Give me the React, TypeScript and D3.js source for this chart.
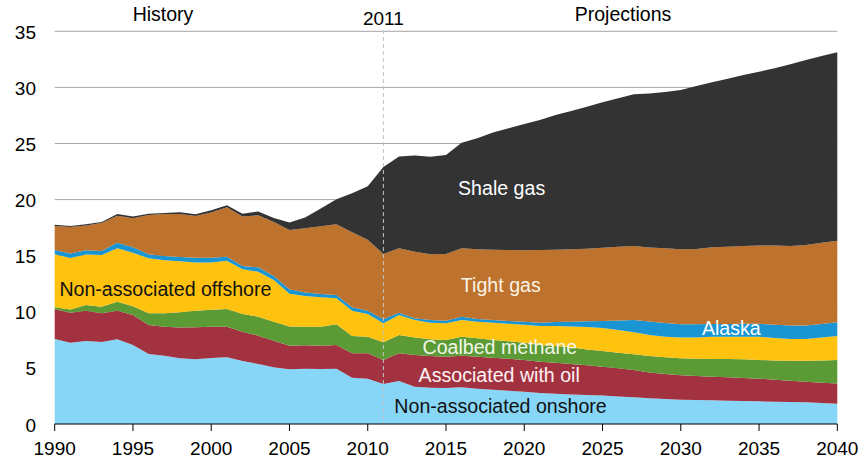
import React from 'react';
import * as d3 from 'd3';

// US natural gas production by source, 1990-2040 (trillion cubic feet)
const years = d3.range(1990, 2041);

const onshore = [
  7.58, 7.25, 7.4, 7.31, 7.55, 7.04, 6.24, 6.09, 5.85, 5.76,
  5.88, 5.94, 5.61, 5.35, 5.05, 4.88, 4.92, 4.9, 4.93, 4.13,
  4.04, 3.57, 3.83, 3.33, 3.24, 3.21, 3.27, 3.15, 3.06, 2.97,
  2.88, 2.76, 2.7, 2.64, 2.58, 2.53, 2.44, 2.38, 2.29, 2.23,
  2.17, 2.14, 2.11, 2.08, 2.05, 2.02, 1.99, 1.96, 1.93, 1.87,
  1.81,
];
const assocOil = [
  2.64, 2.67, 2.7, 2.55, 2.55, 2.67, 2.58, 2.58, 2.74, 2.86,
  2.79, 2.73, 2.62, 2.52, 2.38, 2.1, 2.1, 2.08, 2.11, 2.17,
  2.26, 2.13, 2.47, 2.82, 2.82, 2.79, 2.82, 2.85, 2.85, 2.85,
  2.82, 2.79, 2.77, 2.71, 2.65, 2.58, 2.52, 2.43, 2.31, 2.23,
  2.17, 2.14, 2.11, 2.08, 2.05, 2.02, 1.96, 1.9, 1.84, 1.81,
  1.81,
];
const coalbed = [
  0.18, 0.28, 0.5, 0.6, 0.8, 0.79, 1.04, 1.19, 1.36, 1.48,
  1.52, 1.58, 1.57, 1.7, 1.69, 1.72, 1.65, 1.69, 1.84, 1.54,
  1.48, 1.58, 1.63, 1.57, 1.49, 1.49, 1.69, 1.64, 1.58, 1.55,
  1.55, 1.49, 1.48, 1.48, 1.42, 1.39, 1.4, 1.4, 1.46, 1.48,
  1.51, 1.54, 1.57, 1.63, 1.66, 1.66, 1.72, 1.78, 1.87, 1.99,
  2.08,
];
const offshore = [
  4.72, 4.6, 4.5, 4.6, 4.76, 4.77, 4.91, 4.74, 4.55, 4.3,
  4.21, 4.31, 4.0, 4.0, 3.71, 2.9, 2.73, 2.62, 2.32, 2.26,
  2.02, 1.69, 1.78, 1.55, 1.48, 1.48, 1.49, 1.48, 1.54, 1.57,
  1.6, 1.69, 1.79, 1.87, 2.0, 2.06, 2.01, 1.96, 1.87, 1.84,
  1.87, 1.9, 1.99, 1.99, 2.02, 2.08, 1.99, 1.94, 1.94, 2.05,
  2.14,
];
const alaska = [
  0.38, 0.4, 0.38, 0.36, 0.5, 0.48, 0.35, 0.37, 0.38, 0.42,
  0.42, 0.35, 0.28, 0.39, 0.36, 0.4, 0.33, 0.3, 0.3, 0.3,
  0.3, 0.36, 0.21, 0.15, 0.24, 0.24, 0.3, 0.24, 0.24, 0.24,
  0.27, 0.3, 0.35, 0.42, 0.5, 0.62, 0.85, 1.1, 1.2, 1.22,
  1.16, 1.16, 1.13, 1.14, 1.15, 1.16, 1.19, 1.21, 1.21, 1.2,
  1.22,
];
const tight = [
  2.15, 2.35, 2.22, 2.5, 2.41, 2.58, 3.51, 3.75, 3.84, 3.72,
  4.02, 4.4, 4.42, 4.64, 4.81, 5.3, 5.71, 6.03, 6.3, 6.7,
  6.33, 5.82, 5.74, 5.94, 5.85, 5.94, 6.09, 6.21, 6.27, 6.32,
  6.36, 6.47, 6.43, 6.45, 6.48, 6.52, 6.58, 6.59, 6.6, 6.66,
  6.69, 6.72, 6.84, 6.88, 6.93, 6.98, 7.07, 7.07, 7.16, 7.24,
  7.28,
];
const shale = [
  0.1, 0.1, 0.1, 0.08, 0.15, 0.17, 0.12, 0.08, 0.15, 0.16,
  0.21, 0.19, 0.25, 0.35, 0.35, 0.65, 0.96, 1.58, 2.23, 3.46,
  4.77, 7.75, 8.19, 8.57, 8.71, 8.82, 9.41, 9.89, 10.43, 10.85,
  11.26, 11.59, 12.02, 12.33, 12.65, 12.97, 13.23, 13.52, 13.72, 13.93,
  14.2, 14.52, 14.7, 14.98, 15.24, 15.48, 15.78, 16.2, 16.49, 16.64,
  16.79,
];

const yTicks = [0, 5, 10, 15, 20, 25, 30, 35];
const xTicks = [1990, 1995, 2000, 2005, 2010, 2015, 2020, 2025, 2030, 2035, 2040];
const splitYear = 2011;

const layers = [
  { key: 'onshore', values: onshore, color: '#87d6f8' },
  { key: 'assocOil', values: assocOil, color: '#a33241' },
  { key: 'coalbed', values: coalbed, color: '#5c9a36' },
  { key: 'offshore', values: offshore, color: '#ffc20e' },
  { key: 'alaska', values: alaska, color: '#1a95d3' },
  { key: 'tight', values: tight, color: '#bd722d' },
  { key: 'shale', values: shale, color: '#333333' },
];

// label anchors in data space (year, value at baseline)
const labels = [
  { text: 'Non-associated offshore', year: 1990.3, value: 11.4, fill: '#111' },
  { text: 'Shale gas', year: 2015.77, value: 20.4, fill: '#fff' },
  { text: 'Tight gas', year: 2015.95, value: 11.75, fill: '#fbf4e6' },
  { text: 'Alaska', year: 2031.35, value: 7.93, fill: '#fff' },
  { text: 'Coalbed methane', year: 2013.5, value: 6.24, fill: '#f1f7e8' },
  { text: 'Associated with oil', year: 2013.25, value: 3.74, fill: '#fdf3f3' },
  { text: 'Non-associated onshore', year: 2011.7, value: 0.98, fill: '#111' },
];

const FONT = '"Liberation Sans", Arial, sans-serif';

export default function App() {
  const W = 866;
  const H = 464;
  const x = d3.scaleLinear().domain([1990, 2040]).range([54.7, 837.3]);
  const y = d3.scaleLinear().domain([0, 35]).range([424, 31.3]);

  const rows = years.map((yr, i) => {
    const r: any = { year: yr };
    layers.forEach(l => { r[l.key] = l.values[i]; });
    return r;
  });
  const stacked = d3.stack<any>().keys(layers.map(l => l.key))(rows);
  const area = d3.area<any>()
    .x(d => x(d.data.year))
    .y0(d => y(d[0]))
    .y1(d => y(d[1]));

  return (
    <svg width={W} height={H} style={{ position: 'absolute', left: 0, top: 0, background: '#fff' }}
      fontFamily={FONT}>
      {yTicks.filter(t => t > 0).map(t => (
        <line key={'g' + t} x1={x(1990)} x2={x(2040)} y1={y(t)} y2={y(t)} stroke="#a6a6a6" strokeWidth={1} />
      ))}
      {stacked.map((s, i) => (
        <path key={layers[i].key} d={area(s) || ''} fill={layers[i].color} />
      ))}
      <line x1={x(splitYear)} x2={x(splitYear)} y1={30} y2={y(0)} stroke="#c4c4c4" strokeWidth={1} strokeDasharray="4,3" />
      <line x1={x(1990)} x2={x(2040)} y1={y(0)} y2={y(0)} stroke="#000" strokeWidth={1.2} />
      {xTicks.map(t => (
        <g key={'x' + t}>
          <line x1={x(t)} x2={x(t)} y1={y(0)} y2={y(0) + 7} stroke="#000" strokeWidth={1} />
          <text x={x(t)} y={455} textAnchor="middle" fontSize={19} fill="#000">{t}</text>
        </g>
      ))}
      {yTicks.map(t => (
        <text key={'y' + t} x={36} y={y(t) + 7.5} textAnchor="end" fontSize={19} fill="#000">{t}</text>
      ))}
      <text x={163} y={21} textAnchor="middle" fontSize={19.5} fill="#000">History</text>
      <text x={x(splitYear)} y={25} textAnchor="middle" fontSize={19} fill="#000">{splitYear}</text>
      <text x={623} y={21} textAnchor="middle" fontSize={19.5} fill="#000">Projections</text>
      {labels.map(l => (
        <text key={l.text} x={x(l.year)} y={y(l.value)} fontSize={19.6} fill={l.fill}>{l.text}</text>
      ))}
    </svg>
  );
}
